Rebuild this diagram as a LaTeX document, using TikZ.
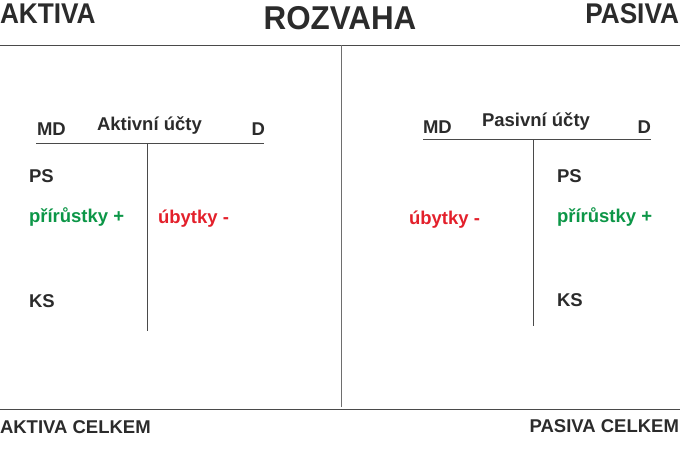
\documentclass[tikz,border=0pt]{standalone}
\usepackage{fontspec}
\setmainfont{Liberation Sans}
\newfontfamily\titlefont{Liberation Sans}[FakeStretch=0.92]
\newfontfamily\bigtitlefont{Liberation Sans}[FakeStretch=0.95]
\definecolor{ink}{HTML}{2B2B2B}
\definecolor{rule}{HTML}{4A4A4A}
\definecolor{plusgreen}{HTML}{0C9647}
\definecolor{minusred}{HTML}{E3202B}
\begin{document}
\begin{tikzpicture}[x=1pt,y=-1pt,
  lbl/.style={inner sep=0pt,outer sep=0pt,text=ink,font=\fontsize{18.5}{20}\selectfont\bfseries},
  head/.style={inner sep=0pt,outer sep=0pt,text=ink,font=\titlefont\fontsize{28.5}{30}\selectfont\bfseries},
  plus/.style={lbl,text=plusgreen},
  minus/.style={lbl,text=minusred},
  frame/.style={draw=rule,line width=1pt},
  divider/.style={draw=rule!80,line width=0.8pt},
  tline/.style={draw=rule,line width=1pt}]
\useasboundingbox (0,0) rectangle (696,453);

% balance sheet frame
\coordinate (topL) at (0,45);
\coordinate (topR) at (680,45);
\coordinate (midT) at (341,45);
\coordinate (midB) at (341,407);
\coordinate (botL) at (0,409);
\coordinate (botR) at (680,409);
\draw[frame] (topL) -- (topR);
\draw[frame] (botL) -- (botR);
\draw[divider] (midT) -- (midB);

% headings
\node[head,anchor=base west] (aktiva) at (0,23.5) {AKTIVA};
\node[head,anchor=base,font=\bigtitlefont\fontsize{33}{35}\selectfont\bfseries] (rozvaha) at (340,29.5) {ROZVAHA};
\node[head,anchor=base east] (pasiva) at (679,23.5) {PASIVA};
\node[lbl,anchor=base west] (aktivaC) at (0,433) {AKTIVA CELKEM};
\node[lbl,anchor=base east] (pasivaC) at (679,432) {PASIVA CELKEM};

% asset T-account
\coordinate (aL) at (36,143);
\coordinate (aR) at (264,143);
\coordinate (aT) at (147,143);
\coordinate (aB) at (147,331);
\draw[tline] (aL) -- (aR);
\draw[tline] (aT) -- (aB);
\node[lbl,anchor=base west] (aMD) at (37,135) {MD};
\node[lbl,anchor=base west] (aName) at (97,130.5) {Aktivní účty};
\node[lbl,anchor=base east] (aD) at (265,135) {D};
\node[lbl,anchor=base west] (aPS) at (29,182) {PS};
\node[plus,anchor=base west] (aPlus) at (29,222) {přírůstky +};
\node[minus,anchor=base west] (aMinus) at (158,223) {úbytky -};
\node[lbl,anchor=base west] (aKS) at (29,307) {KS};

% liability T-account
\coordinate (pL) at (423,139);
\coordinate (pR) at (651,139);
\coordinate (pT) at (533,139);
\coordinate (pB) at (533,326);
\draw[tline] (pL) -- (pR);
\draw[tline] (pT) -- (pB);
\node[lbl,anchor=base west] (pMD) at (423,133) {MD};
\node[lbl,anchor=base west] (pName) at (482,126) {Pasivní účty};
\node[lbl,anchor=base east] (pD) at (651,133) {D};
\node[lbl,anchor=base west] (pPS) at (557,182) {PS};
\node[plus,anchor=base west] (pPlus) at (557,222) {přírůstky +};
\node[minus,anchor=base west] (pMinus) at (409,224) {úbytky -};
\node[lbl,anchor=base west] (pKS) at (557,306) {KS};
\end{tikzpicture}
\end{document}
